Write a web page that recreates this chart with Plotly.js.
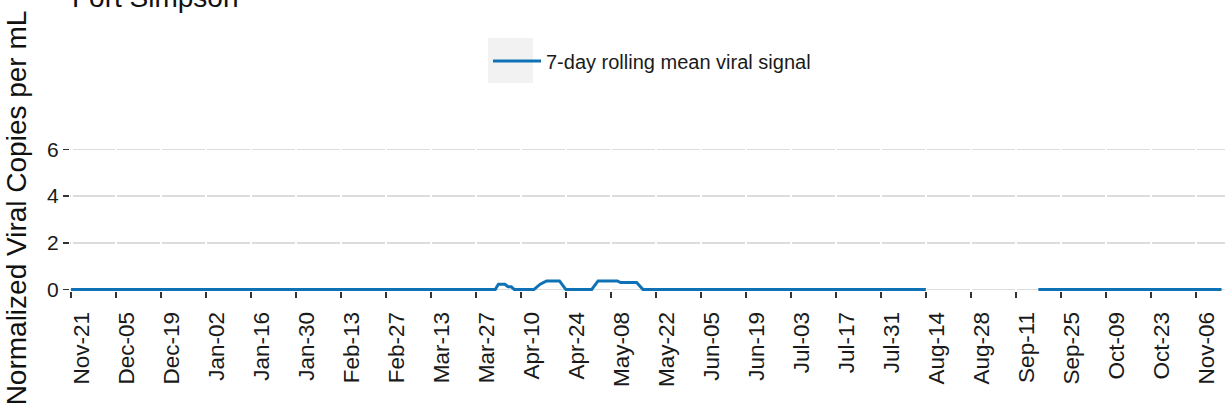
<!DOCTYPE html>
<html>
<head>
<meta charset="utf-8">
<script src="https://cdn.plot.ly/plotly-3.0.1.min.js"></script>
<style>html,body{margin:0;padding:0;background:#fff;}#chart{width:1225px;height:409px;}</style>
</head>
<body>
<div id="chart"></div>
<script>
// Data (Fort Simpson)
const dates = [
  '2021-11-21', '2022-04-02', '2022-04-03', '2022-04-05', '2022-04-06', '2022-04-07', '2022-04-08',
  '2022-04-14', '2022-04-16', '2022-04-18', '2022-04-22', '2022-04-24',
  '2022-05-02', '2022-05-04', '2022-05-10', '2022-05-11', '2022-05-16', '2022-05-18',
  '2022-08-14', '2022-08-15',
  '2022-09-18', '2022-11-14'
];
const signal = [
  0, 0, 0.23, 0.23, 0.12, 0.12, 0,
  0, 0.23, 0.37, 0.37, 0,
  0, 0.37, 0.37, 0.30, 0.30, 0,
  0, null,
  0, 0
];
const seriesName = '7-day rolling mean viral signal';
const siteName = 'Fort Simpson';
const yTitle = 'Normalized Viral Copies per mL';
const yTicks = [0, 2, 4, 6];

const FONT = '"Liberation Sans", Arial, sans-serif';
const BLUE = '#0F72B6';

const trace = {
  x: dates, y: signal, type: 'scatter', mode: 'lines', name: seriesName,
  line: {color: BLUE, width: 3}, connectgaps: false, showlegend: true
};

const L = 70, R = 0, T = 125, B = 118;
const W = 1225, H = 409;
const pw = W - L - R, ph = H - T - B;
function px2paperX(p){ return (p - L) / pw; }
function px2paperY(p){ return (H - B - p) / ph; }

const layout = {
  width: W, height: H,
  margin: {l: L, r: R, t: T, b: B, pad: 0},
  paper_bgcolor: '#fff', plot_bgcolor: '#fff',
  font: {family: FONT, color: '#1a1a1a'},
  xaxis: {
    type: 'date',
    range: ['2021-11-20 16:30', '2022-11-15 02:00'],
    tick0: '2021-11-21', dtick: 14 * 86400000,
    tickformat: '%b-%d', tickangle: -90,
    tickfont: {family: FONT, size: 22.5, color: '#1a1a1a'},
    ticks: 'outside', ticklen: 6, tickwidth: 1.5, tickcolor: '#333',
    ticklabelstandoff: 5, ticklabelshift: 11,
    showgrid: false,
    zeroline: false, showline: false, automargin: false
  },
  yaxis: {
    range: [-0.06, 7.04],
    tickvals: yTicks, ticktext: yTicks.map(String),
    tickfont: {family: FONT, size: 21, color: '#1a1a1a'},
    ticks: 'outside', ticklen: 6, tickwidth: 1.5, tickcolor: '#333',
    showgrid: true, gridcolor: '#dcdcdc', gridwidth: 1.5,
    griddash: '0.5px,2px,42.49px,0px',
    zeroline: false, showline: false, automargin: false,
    title: {text: yTitle, font: {family: FONT, size: 28, color: '#111'}, standoff: 12}
  },
  showlegend: true,
  legend: {
    orientation: 'h', x: px2paperX(488), xanchor: 'left',
    y: px2paperY(61), yanchor: 'middle',
    bgcolor: 'rgba(0,0,0,0)', borderwidth: 0,
    font: {family: FONT, size: 20, color: '#1a1a1a'},
    itemwidth: 48
  },
  annotations: [{
    text: siteName, showarrow: false,
    font: {family: FONT, size: 28, color: '#111'},
    xref: 'paper', x: px2paperX(70), xanchor: 'left',
    yref: 'paper', y: px2paperY(-3), yanchor: 'middle'
  }],
  shapes: [{
    type: 'rect', xref: 'paper', yref: 'paper', layer: 'below',
    x0: px2paperX(488), x1: px2paperX(533), y0: px2paperY(83), y1: px2paperY(38),
    fillcolor: '#f2f2f2', line: {width: 0}
  }]
};

Plotly.newPlot('chart', [trace], layout, {displayModeBar: false, staticPlot: true});
</script>
</body>
</html>
